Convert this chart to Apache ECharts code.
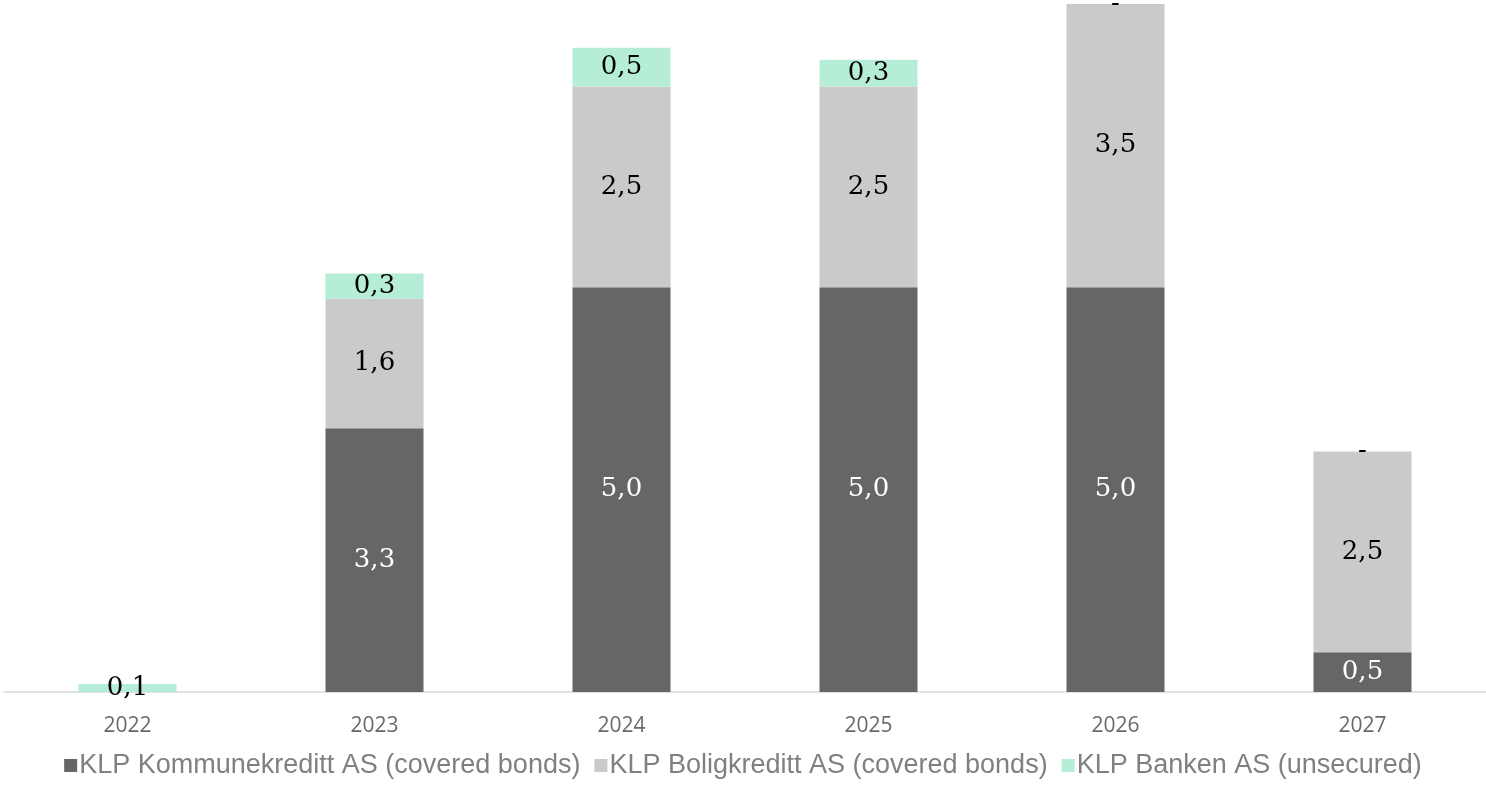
<!DOCTYPE html>
<html>
<head>
<meta charset="utf-8">
<script src="https://cdn.jsdelivr.net/npm/echarts@6/dist/echarts.min.js"></script>
<style>html,body{margin:0;padding:0;background:#fff;}#chart{width:1486px;height:796px;}</style>
</head>
<body>
<div id="chart"></div>
<script>
const categories = ['2022', '2023', '2024', '2025', '2026', '2027'];
const kommunekreditt = [null, 3.26, 5.0, 5.0, 5.0, 0.49];
const boligkreditt = [null, 1.6, 2.48, 2.48, 3.5, 2.48];
const banken = [0.1, 0.31, 0.48, 0.33, 0, 0];
const seriesNames = ['KLP Kommunekreditt AS (covered bonds)', 'KLP Boligkreditt AS (covered bonds)', 'KLP Banken AS (unsecured)'];

function fmt(p) {
  if (p.value === null || p.value === undefined) return '';
  if (p.value === 0) return '-';
  return p.value.toFixed(1).replace('.', ',');
}
const chart = echarts.init(document.getElementById('chart'));
const labelBase = { show: true, position: 'inside', fontFamily: 'DejaVu Serif', fontSize: 26, formatter: fmt };
chart.setOption({
  animation: false,
  grid: { left: 4, right: 0, top: 4, bottom: 104 },
  legend: {
    bottom: 12, left: 'center',
    itemWidth: 13, itemHeight: 13, itemGap: 14,
    icon: 'rect',
    textStyle: { fontFamily: 'Liberation Sans', fontSize: 27, color: '#808080', padding: [0, 0, 0, -3] },
    data: seriesNames
  },
  xAxis: {
    type: 'category', data: categories,
    axisLine: { lineStyle: { color: '#d9d9d9', width: 1.5 } },
    axisTick: { show: false },
    axisLabel: { fontFamily: 'Open Sans', fontSize: 21, color: '#6a6a6a', margin: 24 }
  },
  yAxis: { type: 'value', min: 0, max: 8.5, show: false, splitLine: { show: false } },
  series: [
    { name: seriesNames[0], type: 'bar', stack: 't', data: kommunekreditt, barWidth: 98,
      itemStyle: { color: '#646765' }, label: Object.assign({}, labelBase, { color: '#ffffff' }) },
    { name: seriesNames[1], type: 'bar', stack: 't', data: boligkreditt, barWidth: 98,
      itemStyle: { color: '#c9cac9' }, label: Object.assign({}, labelBase, { color: '#000000' }) },
    { name: seriesNames[2], type: 'bar', stack: 't', data: banken, barWidth: 98,
      itemStyle: { color: '#b6edd6' }, label: Object.assign({}, labelBase, { color: '#000000' }) }
  ]
});
</script>
</body>
</html>
